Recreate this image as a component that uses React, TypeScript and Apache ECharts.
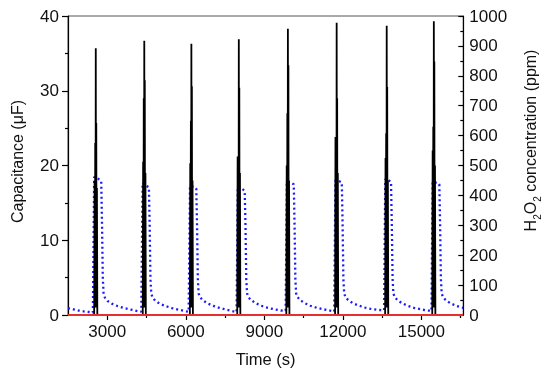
import React, { useEffect, useRef } from "react";
import * as echarts from "echarts";

// ---- Data ----
// Capacitance spikes (time s, capacitance µF)
const capSpike1 = [[2500, 0], [2515, 18], [2528, 1], [2540, 23], [2552, 2], [2561, 35.7], [2570, 3], [2580, 25.7], [2592, 1], [2605, 17], [2620, 0]];
const capSpike2 = [[4355, 0], [4370, 20.5], [4382, 1], [4394, 29], [4405, 2], [4414, 36.7], [4423, 3], [4433, 31.4], [4445, 1], [4458, 19], [4473, 0]];
const capSpike3 = [[6155, 0], [6170, 20.3], [6182, 1], [6194, 26], [6205, 2], [6213, 36.3], [6222, 3], [6232, 30.6], [6244, 1], [6257, 18], [6272, 0]];
const capSpike4 = [[7965, 0], [7980, 21.2], [7992, 1], [8004, 6], [8016, 2], [8025, 36.9], [8034, 3], [8044, 30.4], [8056, 1], [8069, 19], [8084, 0]];
const capSpike5 = [[9840, 0], [9855, 20], [9867, 1], [9879, 27], [9891, 2], [9900, 38.3], [9909, 3], [9919, 33.4], [9931, 1], [9944, 18], [9959, 0]];
const capSpike6 = [[11703, 0], [11718, 23.8], [11730, 1], [11742, 21], [11754, 2], [11763, 39.1], [11772, 3], [11782, 29], [11794, 1], [11807, 19], [11822, 0]];
const capSpike7 = [[13615, 0], [13630, 21], [13642, 1], [13654, 24.3], [13666, 2], [13675, 38.7], [13684, 3], [13694, 30.5], [13706, 1], [13719, 18], [13734, 0]];
const capSpike8 = [[15415, 0], [15430, 22], [15442, 1], [15454, 25.2], [15466, 2], [15475, 39.3], [15484, 3], [15494, 33.9], [15506, 1], [15519, 20], [15534, 0]];
const capStart = [[1500, 0]];
const capEnd = [[16600, 0]];

// H2O2 concentration (time s, ppm)
const concStart = [[1500, 23], [1700, 19], [1900, 15], [2100, 12], [2300, 10], [2450, 8]];
const concCycle1 = [[2470, 8], [2500, 462], [2560, 458], [2640, 456], [2720, 452], [2770, 446], [2800, 300], [2830, 120], [2860, 72], [2910, 58], [3010, 47], [3170, 38], [3390, 30], [3650, 23], [3900, 18], [4150, 13], [4300, 11]];
const concCycle2 = [[4320, 11], [4350, 442], [4410, 438], [4500, 432], [4590, 427], [4620, 300], [4650, 120], [4680, 72], [4730, 58], [4830, 48], [5000, 38], [5220, 30], [5470, 23], [5720, 18], [5970, 13], [6110, 11]];
const concCycle3 = [[6130, 11], [6160, 431], [6230, 430], [6320, 428], [6400, 423], [6430, 300], [6460, 120], [6490, 72], [6540, 60], [6640, 50], [6810, 40], [7030, 31], [7280, 24], [7530, 18], [7780, 13], [7940, 10]];
const concCycle4 = [[7955, 10], [7985, 429], [8050, 427], [8150, 422], [8250, 415], [8280, 300], [8310, 120], [8340, 72], [8390, 60], [8490, 50], [8660, 40], [8880, 31], [9130, 24], [9380, 19], [9630, 15], [9815, 14]];
const concCycle5 = [[9830, 14], [9860, 446], [9930, 444], [10030, 442], [10125, 437], [10155, 300], [10185, 120], [10215, 72], [10265, 60], [10365, 50], [10535, 40], [10755, 31], [11005, 24], [11255, 19], [11505, 15], [11670, 12]];
const concCycle6 = [[11685, 12], [11715, 451], [11780, 449], [11870, 447], [11960, 443], [11990, 300], [12020, 120], [12050, 72], [12100, 60], [12200, 50], [12370, 40], [12590, 32], [12840, 25], [13090, 20], [13340, 17], [13575, 16]];
const concCycle7 = [[13590, 16], [13620, 452], [13675, 457], [13760, 450], [13840, 445], [13870, 300], [13900, 120], [13930, 72], [13980, 60], [14080, 50], [14250, 40], [14470, 31], [14720, 24], [14970, 19], [15220, 15], [15385, 14]];
const concCycle8 = [[15400, 14], [15430, 446], [15495, 444], [15590, 442], [15685, 437], [15715, 300], [15745, 120], [15775, 72], [15825, 60], [15925, 50], [16095, 40], [16315, 31], [16500, 26], [16600, 24]];

const baseline = [[1500, 0], [16600, 0]];

const xMajorTicks = [3000, 6000, 9000, 12000, 15000];
const xMinorTicks = [4500, 7500, 10500, 13500, 16500];

const FONT = "Liberation Sans, Arial, sans-serif";
const plain = (v: number) => String(v);

export default function App() {
  const ref = useRef<HTMLDivElement>(null);
  useEffect(() => {
    if (!ref.current) return;
    const chart = echarts.init(ref.current, undefined, { renderer: "svg" });
    const capData = [
      ...capStart, ...capSpike1, ...capSpike2, ...capSpike3, ...capSpike4,
      ...capSpike5, ...capSpike6, ...capSpike7, ...capSpike8, ...capEnd,
    ];
    const concData = [
      ...concStart, ...concCycle1, ...concCycle2, ...concCycle3, ...concCycle4,
      ...concCycle5, ...concCycle6, ...concCycle7, ...concCycle8,
    ];
    chart.setOption({
      animation: false,
      textStyle: { fontFamily: FONT },
      grid: {
        left: 68, right: 79, top: 16, bottom: 58,
        show: true, borderColor: "#555", borderWidth: 1, backgroundColor: "transparent",
      },
      xAxis: [
        {
          type: "value", min: 1500, max: 16600, position: "bottom",
          name: "Time (s)", nameLocation: "middle", nameGap: 35,
          nameTextStyle: { fontSize: 16.5, color: "#111", fontFamily: FONT },
          axisLine: { show: true, lineStyle: { color: "#000", width: 1.2 } },
          axisTick: { show: true, inside: false, length: 5, customValues: xMajorTicks, lineStyle: { color: "#000", width: 1.2 } },
          axisLabel: { show: true, customValues: xMajorTicks, formatter: plain, margin: 8, fontSize: 17, color: "#111", fontFamily: FONT },
          splitLine: { show: false },
        },
        {
          type: "value", min: 1500, max: 16600, position: "bottom", offset: 0,
          axisLine: { show: false },
          axisTick: { show: true, inside: false, length: 3, customValues: xMinorTicks, lineStyle: { color: "#000", width: 1.2 } },
          axisLabel: { show: false },
          splitLine: { show: false },
        },
      ],
      yAxis: [
        {
          type: "value", min: 0, max: 40, interval: 10, position: "left",
          name: "Capacitance (\u03bcF)", nameLocation: "middle", nameGap: 43,
          nameTextStyle: { fontSize: 16, color: "#111", fontFamily: FONT, padding: [0, 0, 0, 8] },
          axisLine: { show: true, lineStyle: { color: "#000", width: 1.2 } },
          axisTick: { show: true, inside: false, length: 6, lineStyle: { color: "#000", width: 1.2 } },
          minorTick: { show: true, splitNumber: 2, length: 3, lineStyle: { color: "#000", width: 1.2 } },
          axisLabel: { margin: 9, fontSize: 17, color: "#111", fontFamily: FONT, formatter: plain },
          splitLine: { show: false },
        },
        {
          type: "value", min: 0, max: 1000, interval: 100, position: "right",
          name: "H{sub|2}O{sub|2} concentration (ppm)", nameLocation: "middle", nameGap: 46,
          nameTextStyle: {
            fontSize: 16, color: "#111", fontFamily: FONT, lineHeight: 24, padding: [0, 0, 0, 50],
            rich: { sub: { fontSize: 10, lineHeight: 10, padding: [14, 0, 0, 0], verticalAlign: "bottom", color: "#111", fontFamily: FONT } },
          },
          axisLine: { show: true, lineStyle: { color: "#000", width: 1.2 } },
          axisTick: { show: true, inside: true, length: 5, lineStyle: { color: "#000", width: 1.2 } },
          minorTick: { show: true, splitNumber: 2, length: 3, lineStyle: { color: "#000", width: 1.2 } },
          axisLabel: { margin: 6, fontSize: 17, color: "#111", fontFamily: FONT, formatter: plain },
          splitLine: { show: false },
        },
      ],
      series: [
        {
          type: "line", name: "H2O2", xAxisIndex: 0, yAxisIndex: 1, data: concData,
          showSymbol: false, symbol: "none", z: 2,
          lineStyle: { color: "#1a1aff", width: 2.3, type: [2, 3] },
        },
        {
          type: "line", name: "Capacitance", xAxisIndex: 0, yAxisIndex: 0, data: capData,
          showSymbol: false, symbol: "none", z: 3,
          lineStyle: { color: "#000", width: 1.8 },
        },
        {
          type: "line", name: "zero", xAxisIndex: 0, yAxisIndex: 0, data: baseline,
          showSymbol: false, symbol: "none", z: 4,
          lineStyle: { color: "#e53030", width: 2 },
        },
      ],
    });
    return () => chart.dispose();
  }, []);
  return <div ref={ref} style={{ position: "fixed", left: 0, top: 0, width: 550, height: 373 }} />;
}
